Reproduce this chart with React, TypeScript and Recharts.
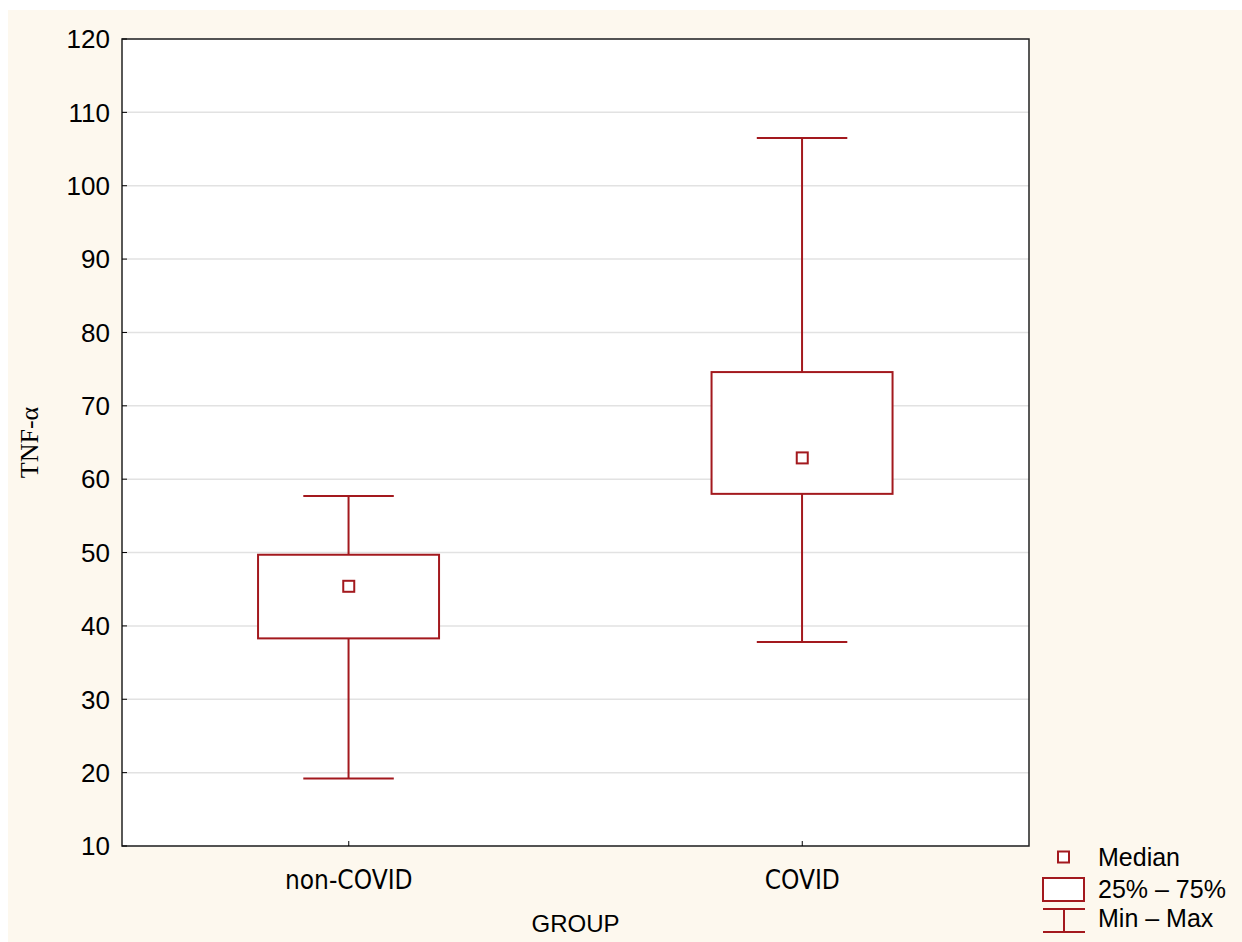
import React from 'react';
import {
  ComposedChart,
  Bar,
  Scatter,
  XAxis,
  YAxis,
  CartesianGrid,
  ReferenceArea,
  Label,
} from 'recharts';

const groups = ['non-COVID', 'COVID'];
const minValues = [19.2, 37.8];
const q1Values = [38.3, 58.0];
const medianValues = [45.4, 62.9];
const q3Values = [49.7, 74.6];
const maxValues = [57.7, 106.5];
const yTicks = [10, 20, 30, 40, 50, 60, 70, 80, 90, 100, 110, 120];

const RED = '#A3191E';
const SANS = '"Liberation Sans", Arial, sans-serif';

const data = groups.map((g, i) => ({
  group: g,
  range: [minValues[i], maxValues[i]],
  min: minValues[i],
  q1: q1Values[i],
  median: medianValues[i],
  q3: q3Values[i],
  max: maxValues[i],
}));

// box + whiskers drawn from the bar's min..max pixel extent
function BoxShape(props: any) {
  const { x, y, width, height, payload } = props;
  const { min, max, q1, q3 } = payload;
  const k = height / (max - min);
  const yOf = (v: number) => y + (max - v) * k;
  const cx = x + width / 2;
  const cap = width / 4;
  return (
    <g>
      <line x1={cx} x2={cx} y1={yOf(max)} y2={yOf(min)} stroke={RED} strokeWidth={2} />
      <line x1={cx - cap} x2={cx + cap} y1={yOf(max)} y2={yOf(max)} stroke={RED} strokeWidth={2} />
      <line x1={cx - cap} x2={cx + cap} y1={yOf(min)} y2={yOf(min)} stroke={RED} strokeWidth={2} />
      <rect
        x={x}
        y={yOf(q3)}
        width={width}
        height={yOf(q1) - yOf(q3)}
        fill="#fff"
        stroke={RED}
        strokeWidth={2}
      />
    </g>
  );
}

function MedianShape(props: any) {
  const { cx, cy } = props;
  return <rect x={cx - 5.5} y={cy - 5.5} width={11} height={11} fill="#fff" stroke={RED} strokeWidth={2} />;
}

function YTitle(props: any) {
  const { viewBox } = props;
  const cy = viewBox.y + viewBox.height / 2;
  return (
    <text
      x={38}
      y={cy}
      transform={`rotate(-90, 38, ${cy})`}
      textAnchor="middle"
      fontFamily='"Liberation Serif", "Times New Roman", serif'
      fontSize={26}
      fill="#000"
    >
      TNF-α
    </text>
  );
}

function LegendBox() {
  return (
    <svg width={200} height={100} style={{ position: 'absolute', left: 1036, top: 842 }}>
      <g transform="translate(-1036,-842)">
        <rect x={1058} y={851.5} width={11} height={11} fill="#fff" stroke={RED} strokeWidth={2} />
        <rect x={1043} y={878} width={41} height={23} fill="#fff" stroke={RED} strokeWidth={2} />
        <line x1={1043} x2={1085} y1={909} y2={909} stroke={RED} strokeWidth={2} />
        <line x1={1043} x2={1085} y1={932} y2={932} stroke={RED} strokeWidth={2} />
        <line x1={1064} x2={1064} y1={909} y2={932} stroke={RED} strokeWidth={2} />
        <text x={1098} y={866} fontFamily={SANS} fontSize={25} fill="#000">Median</text>
        <text x={1098} y={898} fontFamily={SANS} fontSize={25} fill="#000">25% – 75%</text>
        <text x={1098} y={927} fontFamily={SANS} fontSize={25} fill="#000">Min – Max</text>
      </g>
    </svg>
  );
}

export default function App() {
  return (
    <div style={{ position: 'absolute', left: 0, top: 0, width: 1242, height: 942, background: '#fff' }}>
      <div style={{ position: 'absolute', left: 8, top: 10, width: 1234, height: 932, background: '#FDF8EE' }} />
      <div style={{ position: 'absolute', left: 0, top: 0 }}>
        <ComposedChart
          width={1242}
          height={942}
          data={data}
          margin={{ top: 39, right: 213, bottom: 0, left: 0 }}
          barCategoryGap="30%"
        >
          <CartesianGrid vertical={false} stroke="#E2E2E2" strokeWidth={1.5} fill="#fff" />
          <XAxis
            dataKey="group"
            height={96}
            axisLine={false}
            tickSize={-5}
            tickMargin={30}
            tickLine={{ stroke: '#000' }}
            tick={{ fill: '#000', fontSize: 26, fontFamily: '"DejaVu Sans Condensed", "DejaVu Sans", sans-serif' }}
          >
            <Label value="GROUP" position="insideBottom" offset={10} fill="#000" fontSize={24} fontFamily={SANS} />
          </XAxis>
          <YAxis
            width={122}
            domain={[10, 120]}
            ticks={yTicks}
            axisLine={false}
            tickSize={-5}
            tickMargin={17}
            tickLine={{ stroke: '#000' }}
            tick={{ fill: '#000', fontSize: 26, fontFamily: SANS }}
            interval={0}
          >
            <Label content={<YTitle />} />
          </YAxis>
          <ReferenceArea y1={10} y2={120} fill="none" stroke="#222" strokeWidth={1.5} ifOverflow="visible" />
          <Bar dataKey="range" shape={<BoxShape />} isAnimationActive={false} />
          <Scatter dataKey="median" shape={<MedianShape />} isAnimationActive={false} />
        </ComposedChart>
      </div>
      <LegendBox />
    </div>
  );
}
